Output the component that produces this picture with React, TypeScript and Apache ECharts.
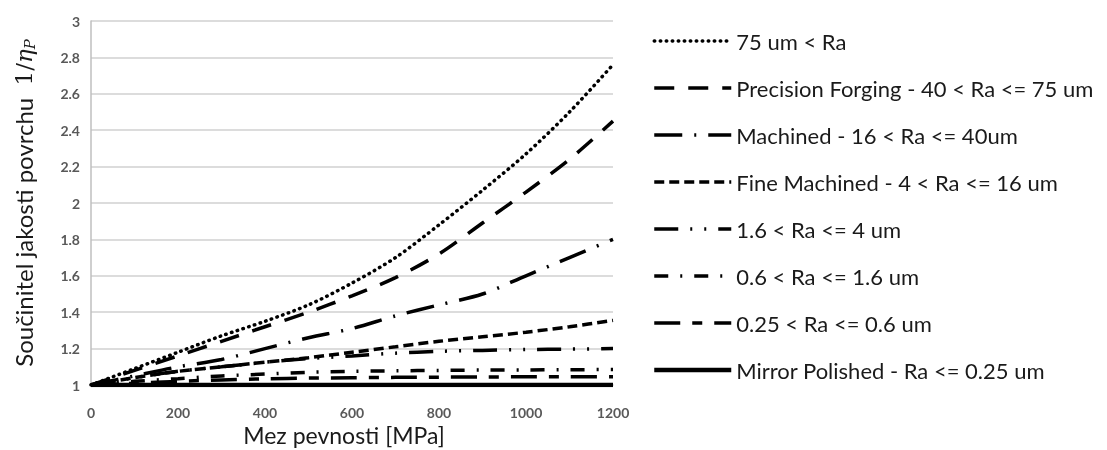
import React, { useEffect, useRef } from "react";
import * as echarts from "echarts";

const xValues = [0, 100, 200, 300, 400, 500, 600, 700, 800, 900, 1000, 1100, 1200];
const seriesNames = [
  "75 um < Ra",
  "Precision Forging - 40 < Ra <= 75 um",
  "Machined - 16 < Ra <= 40um",
  "Fine Machined - 4 < Ra <= 16 um",
  "1.6 < Ra <= 4 um",
  "0.6 < Ra <= 1.6 um",
  "0.25 < Ra <= 0.6 um",
  "Mirror Polished - Ra <= 0.25 um",
];
const ra75 = [1, 1.09, 1.18, 1.27, 1.35, 1.44, 1.56, 1.7, 1.88, 2.07, 2.27, 2.5, 2.76];
const forging = [1, 1.08, 1.16, 1.24, 1.32, 1.4, 1.49, 1.59, 1.72, 1.89, 2.06, 2.24, 2.45];
const machined = [1, 1.05, 1.1, 1.14, 1.2, 1.26, 1.31, 1.38, 1.44, 1.5, 1.6, 1.7, 1.8];
const fineMachined = [1, 1.04, 1.075, 1.1, 1.125, 1.15, 1.18, 1.21, 1.24, 1.265, 1.29, 1.32, 1.355];
const ra16to4 = [1, 1.04, 1.075, 1.1, 1.125, 1.145, 1.16, 1.175, 1.185, 1.19, 1.195, 1.197, 1.2];
const ra06to16 = [1, 1.02, 1.035, 1.05, 1.06, 1.07, 1.075, 1.078, 1.08, 1.082, 1.083, 1.084, 1.085];
const ra025to06 = [1, 1.01, 1.02, 1.028, 1.034, 1.038, 1.04, 1.042, 1.043, 1.044, 1.045, 1.045, 1.045];
const mirror = [1, 1, 1, 1, 1, 1, 1, 1, 1, 1, 1, 1, 1];
const yTickMin = 1;
const yTickMax = 3;
const yTickStep = 0.2;
const xTickMin = 0;
const xTickMax = 1200;
const xTickStep = 200;

const allValues = [ra75, forging, machined, fineMachined, ra16to4, ra06to16, ra025to06, mirror];
const dashes: (number[] | "solid")[] = [
  [0.5, 5.5],
  [20, 14],
  [28, 12, 2, 12],
  [10, 5],
  [24, 12, 2, 12, 2, 12],
  [14, 12, 2, 12],
  [26, 12, 10, 12],
  "solid",
];
const widths = [3.5, 3.5, 3.5, 3.5, 3.5, 3.5, 3.5, 4.5];
const caps = ["round", "butt", "butt", "butt", "butt", "butt", "butt", "butt"];

const FONT = "Lato, 'Open Sans', sans-serif";

export default function App() {
  const ref = useRef<HTMLDivElement>(null);
  useEffect(() => {
    if (!ref.current) return;
    const chart = echarts.init(ref.current, undefined, { renderer: "svg" });
    const series = allValues.map((vals, i) => ({
      name: seriesNames[i],
      type: "line",
      data: vals.map((v, j) => [xValues[j], v]),
      symbol: "none",
      smooth: 0.3,
      lineStyle: {
        color: "#000",
        width: widths[i],
        type: dashes[i],
        cap: caps[i],
      },
      itemStyle: { color: "#000" },
      z: 10 - i,
    }));
    chart.setOption({
      animation: false,
      textStyle: { fontFamily: FONT },
      grid: { left: 91, right: 494, top: 21, bottom: 65, containLabel: false, outerBoundsMode: "none" },
      legend: {
        orient: "vertical",
        left: 647,
        top: 25,
        padding: 5,
        itemWidth: 77,
        itemHeight: 20,
        itemGap: 25,
        itemStyle: { opacity: 0 },
        lineStyle: { width: "inherit" },
        textStyle: { fontSize: 22, color: "#1a1a1a", fontFamily: FONT },
        data: seriesNames,
      },
      xAxis: {
        type: "value",
        min: xTickMin,
        max: xTickMax,
        interval: xTickStep,
        name: "Mez pevnosti [MPa]",
        nameLocation: "middle",
        nameGap: 35,
        nameTextStyle: { fontSize: 23, color: "#1a1a1a", fontFamily: FONT, padding: [0, 16, 0, 0] },
        axisLine: { show: true, lineStyle: { color: "#bfbfbf", width: 1.5 } },
        axisTick: { show: false },
        splitLine: { show: false },
        axisLabel: {
          fontSize: 14,
          color: "#595959",
          margin: 20,
          fontWeight: "bold",
          fontFamily: FONT,
          formatter: (v: number) => String(v),
        },
      },
      yAxis: {
        type: "value",
        min: yTickMin,
        max: yTickMax,
        interval: yTickStep,
        name: "{a|Součinitel jakosti povrchu  }{b|1/}{c|η}{d|P}",
        nameLocation: "middle",
        nameRotate: 90,
        nameGap: 54,
        nameTextStyle: {
          fontSize: 24,
          color: "#1a1a1a",
          rich: {
            a: { fontSize: 24, color: "#1a1a1a", fontFamily: FONT },
            b: { fontSize: 23, color: "#1a1a1a", fontFamily: "'DejaVu Serif', serif" },
            c: { fontSize: 23, color: "#1a1a1a", fontFamily: "'DejaVu Serif', serif", fontStyle: "italic" },
            d: { fontSize: 15, color: "#1a1a1a", fontFamily: "'DejaVu Serif', serif", fontStyle: "italic", padding: [12, 0, 0, 0] },
          },
        },
        axisLine: { show: true, lineStyle: { color: "#bfbfbf", width: 1.5 } },
        axisTick: { show: false },
        splitLine: { show: true, lineStyle: { color: "#d0d0d0", width: 1.5 } },
        axisLabel: { fontSize: 14, color: "#595959", margin: 11, fontWeight: "bold", fontFamily: FONT },
      },
      series,
    });
    return () => chart.dispose();
  }, []);
  return <div ref={ref} style={{ position: "fixed", left: 0, top: 0, width: 1107, height: 450 }} />;
}
